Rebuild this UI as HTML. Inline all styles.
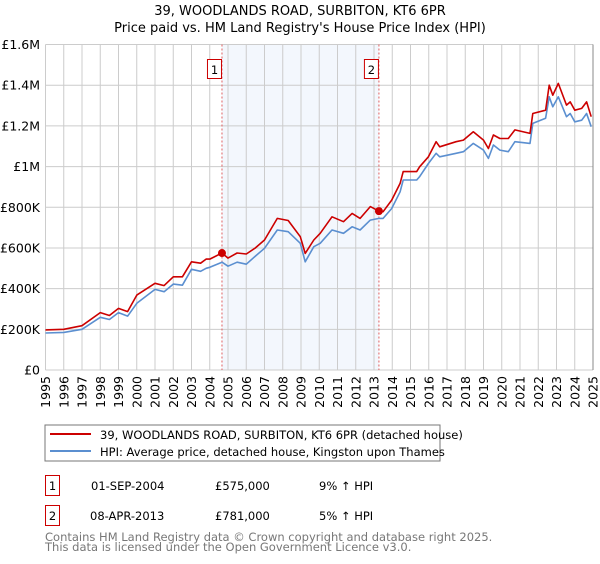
<!DOCTYPE html>
<html><head><meta charset="utf-8"><style>
body{margin:0;background:#fff;font-family:"DejaVu Sans","Liberation Sans",sans-serif}
svg text{font-family:"DejaVu Sans","Liberation Sans",sans-serif}
</style></head><body>
<svg id="c" width="600" height="560" xmlns="http://www.w3.org/2000/svg">
<text x="300" y="15" text-anchor="middle" font-size="13">39, WOODLANDS ROAD, SURBITON, KT6 6PR</text>
<text x="300" y="32" text-anchor="middle" font-size="13">Price paid vs. HM Land Registry's House Price Index (HPI)</text>
<g id="plot"></g>
<rect x="45" y="425" width="395" height="36" fill="#fff" stroke="#777"/>
<line x1="50" y1="434" x2="91" y2="434" stroke="#cc0000" stroke-width="2"/>
<text x="100" y="439" font-size="11.5">39, WOODLANDS ROAD, SURBITON, KT6 6PR (detached house)</text>
<line x1="50" y1="451" x2="91" y2="451" stroke="#5b8fd0" stroke-width="2"/>
<text x="100" y="456" font-size="11.5">HPI: Average price, detached house, Kingston upon Thames</text>
<rect x="45.5" y="475.5" width="14" height="20" fill="#fff" stroke="#cc0000"/>
<text x="52.5" y="490" font-size="11.5" text-anchor="middle">1</text>
<text x="91" y="490" font-size="11.5">01-SEP-2004</text>
<text x="215" y="490" font-size="11.5">£575,000</text>
<text x="319" y="490" font-size="11.5">9% ↑ HPI</text>
<rect x="45.5" y="505.5" width="14" height="20" fill="#fff" stroke="#cc0000"/>
<text x="52.5" y="520" font-size="11.5" text-anchor="middle">2</text>
<text x="90" y="520" font-size="11.5">08-APR-2013</text>
<text x="215" y="520" font-size="11.5">£781,000</text>
<text x="319" y="520" font-size="11.5">5% ↑ HPI</text>
<text x="45" y="541" font-size="11.5" fill="#777">Contains HM Land Registry data © Crown copyright and database right 2025.</text>
<text x="45" y="551" font-size="11.5" fill="#777">This data is licensed under the Open Government Licence v3.0.</text>
</svg>
<script>
const years=[1995,1996,1997,1998,1998.5,1999,1999.5,2000,2001,2001.5,2002,2002.5,2003,2003.5,2003.8,2004,2004.67,2005,2005.5,2006,2006.5,2007,2007.7,2008.3,2008.96,2009.23,2009.7,2010.05,2010.7,2011.33,2011.8,2012.24,2012.8,2013.27,2013.5,2013.97,2014.43,2014.6,2015.34,2015.5,2015.98,2016.4,2016.6,2017.5,2017.9,2018.44,2019,2019.27,2019.54,2019.9,2020.36,2020.72,2021.55,2021.7,2022.4,2022.6,2022.8,2023.1,2023.55,2023.75,2024.0,2024.38,2024.65,2024.9];
const priceSeries=[197,200,218,282,268,303,287,368,426,415,458,458,532,525,545,545,575,550,575,570,600,639,745,735,655,573,639,672,753,729,770,745,803,781,778,835,917,975,975,999,1048,1122,1097,1122,1130,1171,1130,1089,1155,1138,1138,1180,1163,1261,1277,1400,1351,1409,1302,1318,1277,1286,1318,1245];
const hpiSeries=[182,185,200,259,248,282,265,328,396,385,422,417,495,485,500,505,530,510,530,520,560,598,688,680,623,532,606,623,688,672,704,688,737,745,745,794,876,934,934,950,1015,1065,1048,1065,1073,1114,1081,1040,1106,1081,1073,1122,1114,1212,1237,1343,1294,1343,1245,1261,1220,1228,1261,1196];
const yTicks=[0,200,400,600,800,1000,1200,1400,1600];
const yTickLabels=["£0","£200K","£400K","£600K","£800K","£1M","£1.2M","£1.4M","£1.6M"];
const sales=[{t:2004.67,v:575,n:"1"},{t:2013.27,v:781,n:"2"}];
const NS="http://www.w3.org/2000/svg";
const X0=45.5,X1=593,Y0=370,Y1=44.5;
const xs=t=>X0+(t-1995)/30*(X1-X0);
const ys=v=>Y0-v/1600*(Y0-Y1);
const g=document.getElementById('plot');
function mk(tag,a){const e=document.createElementNS(NS,tag);for(const k in a)e.setAttribute(k,a[k]);g.appendChild(e);return e;}
let e=mk('rect',{x:xs(sales[0].t),y:Y1,width:xs(sales[1].t)-xs(sales[0].t),height:Y0-Y1,fill:'#eef3fc',opacity:0.7});


for(let y=1995;y<=2025;y++){
 e=mk('line',{x1:xs(y),x2:xs(y),y1:Y1,y2:Y0,stroke:'#ccc','stroke-width':1});
 
 
 e=mk('text',{x:0,y:0,'font-size':12.5,'text-anchor':'end',transform:`translate(${xs(y)+4.5},${Y0+6}) rotate(-90)`});
 e.textContent=y;
 
 
}
yTicks.forEach((v,i)=>{
 e=mk('line',{x1:X0,x2:X1,y1:ys(v),y2:ys(v),stroke:'#ccc','stroke-width':1});
 
 
 e=mk('text',{x:40,y:ys(v)+4.5,'font-size':12.5,'text-anchor':'end'});
 e.textContent=yTickLabels[i];
 
 
});
e=mk('line',{x1:X1,x2:X1,y1:Y1,y2:Y0,stroke:'#888','stroke-width':1});


sales.forEach(s=>{
 e=mk('line',{x1:xs(s.t),x2:xs(s.t),y1:Y1,y2:Y0,stroke:'#e06060','stroke-width':1,'stroke-dasharray':'2,2'});
 
 
});
function path(arr,col,name){
 const d=arr.map((v,i)=>(i?'L':'M')+xs(years[i]).toFixed(1)+','+ys(v).toFixed(1)).join('');
 const p=mk('path',{d:d,fill:'none',stroke:col,'stroke-width':1.6,'stroke-linejoin':'round'});
 
 
}
path(hpiSeries,'#5b8fd0','hpi-line');
path(priceSeries,'#cc0000','price-line');
sales.forEach(s=>{
 e=mk('circle',{cx:xs(s.t),cy:ys(s.v),r:4,fill:'#cc0000'});
 
 
 const bx=xs(s.t)-15;
 e=mk('rect',{x:bx+0.5,y:59.5,width:14,height:19,fill:'#fff',stroke:'#cc0000'});
 
 
 e=mk('text',{x:bx+7.5,y:74,'font-size':11.5,'text-anchor':'middle'});
 e.textContent=s.n;
 
 
});
</script>
</body></html>
